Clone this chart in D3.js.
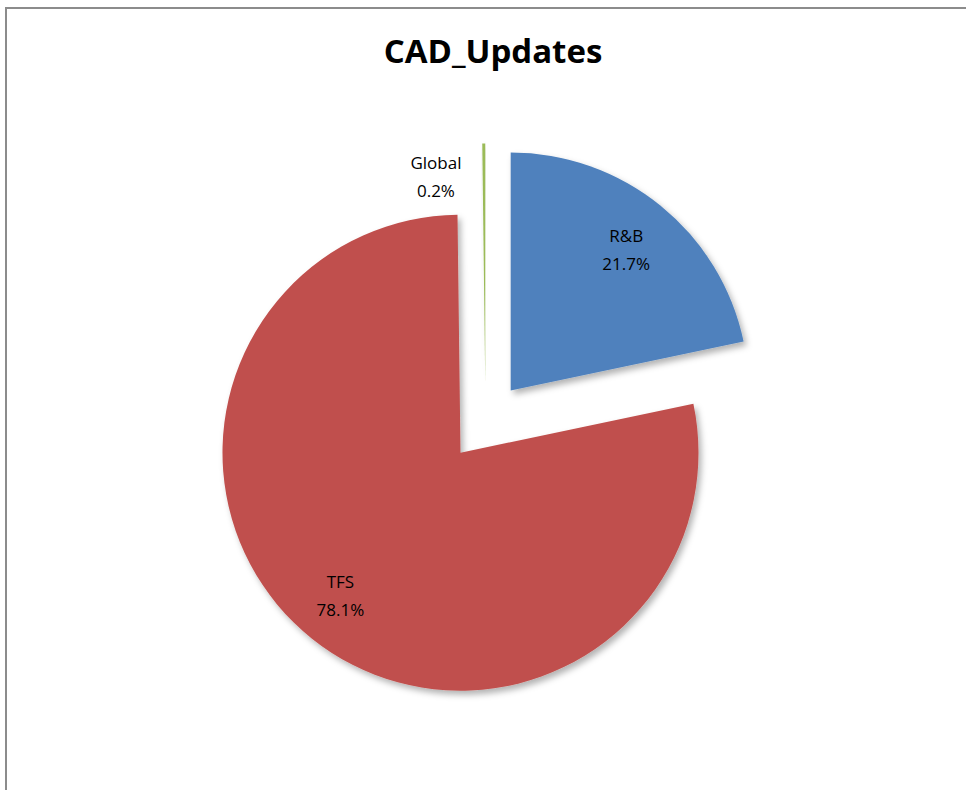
<!DOCTYPE html>
<html>
<head>
<meta charset="utf-8">
<script src="https://cdn.jsdelivr.net/npm/d3@7"></script>
<style>
  html, body { margin: 0; padding: 0; background: #fff; }
  svg { display: block; }
  .label { font-family: "Open Sans", "Liberation Sans", sans-serif; font-size: 17px; fill: #000; }
  .title { font-family: "Open Sans", "Liberation Sans", sans-serif; font-size: 33px; font-weight: bold; fill: #000; }
</style>
</head>
<body>
<div id="chart"></div>
<script>
var title = "CAD_Updates";
var categories = ["R&B", "TFS", "Global"];
var values = [21.7, 78.1, 0.2];
var colors = ["#4F81BD", "#C0504D", "#9BBB59"];

function init(){
    var w = 966;
    var h = 790;
    var radius = 238;
    var explode = 40;
    var cx = 485.5, cy = 421.5;

    var svg = d3.select("#chart")
                .append("svg")
                .attr("width", w)
                .attr("height", h);

    // soft shadow like the excel pie
    var defs = svg.append("defs");
    defs.append("filter")
        .attr("id", "shadow")
        .attr("x", "-20%").attr("y", "-20%")
        .attr("width", "140%").attr("height", "140%")
        .append("feDropShadow")
        .attr("dx", 3).attr("dy", 4)
        .attr("stdDeviation", 3)
        .attr("flood-color", "#000")
        .attr("flood-opacity", 0.3);

    // chart frame
    svg.append("path")
        .attr("d", "M6,790 L6,8 L966,8")
        .attr("fill", "none")
        .attr("stroke", "#8c8c8c")
        .attr("stroke-width", 2);

    svg.append("text")
        .attr("class", "title")
        .attr("x", 493)
        .attr("y", 63)
        .attr("text-anchor", "middle")
        .text(title);

    var dataset = categories.map(function(c, i){
        return {name: c, value: values[i], color: colors[i]};
    });

    var pie = d3.pie()
                .sort(null)
                .value(function(d) { return d.value; });

    var arc = d3.arc()
                .innerRadius(0)
                .outerRadius(radius);

    var arcs = pie(dataset);

    function offset(d, dist){
        var a = (d.startAngle + d.endAngle) / 2;
        return [Math.sin(a) * dist, -Math.cos(a) * dist];
    }

    var g = svg.append("g")
               .attr("transform", `translate(${cx},${cy})`);

    var slices = g.selectAll("g.slice")
        .data(arcs)
        .enter()
        .append("g")
        .attr("class", "slice")
        .attr("transform", function(d){
            var o = offset(d, explode);
            return `translate(${o[0]},${o[1]})`;
        });

    slices.append("path")
        .attr("d", arc)
        .attr("fill", function(d) { return d.data.color; })
        .attr("filter", "url(#shadow)");

    // labels: inside for big slices, outside to the left for the tiny one
    var labelPos = function(d){
        if (d.data.value < 1) {
            var o = offset(d, radius * 0.87);
            return [o[0] - 48, o[1]];
        }
        if (d.data.value > 50) {
            var t = offset(d, radius * 0.78);
            return [t[0] - 4, t[1] - 4];
        }
        return offset(d, radius * 0.77);
    };

    var labels = slices.append("text")
        .attr("class", "label")
        .attr("text-anchor", "middle")
        .attr("transform", function(d){
            var p = labelPos(d);
            return `translate(${p[0]},${p[1]})`;
        });

    labels.append("tspan")
        .attr("x", 0)
        .attr("dy", "-0.35em")
        .text(function(d) { return d.data.name; });

    labels.append("tspan")
        .attr("x", 0)
        .attr("dy", "1.65em")
        .text(function(d) { return d3.format(".1f")(d.data.value) + "%"; });
}
window.onload = init;
</script>
</body>
</html>
